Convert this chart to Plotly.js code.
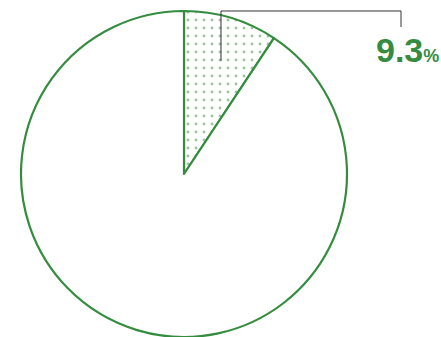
<!DOCTYPE html>
<html>
<head>
<meta charset="utf-8">
<script src="https://cdn.plot.ly/plotly-3.0.1.min.js"></script>
<style>html,body{margin:0;padding:0;background:#fff;}#chart{width:441px;height:337px;}</style>
</head>
<body>
<div id="chart"></div>
<script>
const labels = ["該当", "その他"];
const values = [9.3, 90.7];
const labelText = "9.3";
const unitText = "%";

const green = "#358c3f";

const trace = {
  type: "pie",
  labels: labels,
  values: values,
  sort: false,
  direction: "clockwise",
  rotation: 0,
  textinfo: "none",
  hoverinfo: "label+percent",
  showlegend: false,
  domain: {x: [21/441, 347/441], y: [0, 326/337]},
  marker: {
    colors: ["#ffffff", "#ffffff"],
    line: {color: green, width: 2.2},
    pattern: {shape: [".", ""], fgcolor: green, bgcolor: "#ffffff", size: 8, solidity: 0.1, fillmode: "overlay"}
  }
};

const layout = {
  width: 441, height: 337,
  margin: {l: 0, r: 0, t: 0, b: 0},
  paper_bgcolor: "#ffffff",
  showlegend: false,
  shapes: [{
    type: "path", xref: "paper", yref: "paper",
    path: "M 0.5011 0.8190 L 0.5011 0.9674 L 0.9093 0.9674 L 0.9093 0.9199",
    line: {color: "#333333", width: 1}
  }],
  annotations: [{
    xref: "paper", yref: "paper", x: 1, y: 1 - 71/337, xanchor: "right", yanchor: "bottom",
    showarrow: false,
    text: "<b>" + labelText + "</b><b><span style='font-size:18px'>" + unitText + "</span></b>",
    font: {family: "Liberation Sans, Arial, sans-serif", size: 34, color: green}
  }]
};

Plotly.newPlot("chart", [trace], layout, {displayModeBar: false, staticPlot: true});
</script>
</body>
</html>
